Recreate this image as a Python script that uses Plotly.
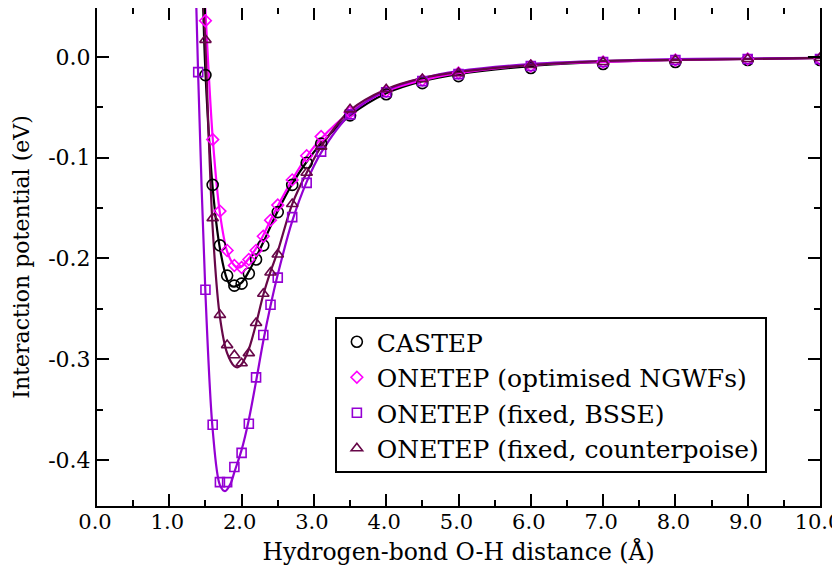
import plotly.graph_objects as go

# ---- data points ----
castep_x = [1.5, 1.6, 1.7, 1.8, 1.9, 2.0, 2.1, 2.2, 2.3, 2.5, 2.7, 2.9, 3.1, 3.5, 4.0, 4.5, 5.0, 6.0, 7.0, 8.0, 9.0, 10.0]
castep_y = [-0.018, -0.127, -0.187, -0.217, -0.227, -0.225, -0.215, -0.201, -0.187, -0.154, -0.127, -0.105, -0.086,
            -0.058, -0.037, -0.026, -0.019, -0.011, -0.007, -0.005, -0.003, -0.003]

opt_x = [1.5, 1.6, 1.7, 1.8, 1.9, 2.0, 2.1, 2.2, 2.3, 2.4, 2.5, 2.7, 2.9, 3.1, 3.5, 4.0, 4.5, 5.0, 6.0, 7.0, 8.0, 9.0, 10.0]
opt_y = [0.036, -0.082, -0.153, -0.192, -0.207, -0.209, -0.201, -0.192, -0.178, -0.162, -0.147, -0.122, -0.098, -0.079,
         -0.055, -0.034, -0.023, -0.016, -0.009, -0.005, -0.003, -0.002, -0.002]

bsse_x = [1.4, 1.5, 1.6, 1.7, 1.8, 1.9, 2.0, 2.1, 2.2, 2.3, 2.4, 2.5, 2.7, 2.9, 3.1, 3.5, 4.0, 4.5, 5.0, 6.0, 7.0, 8.0, 9.0, 10.0]
bsse_y = [-0.015, -0.231, -0.365, -0.422, -0.422, -0.407, -0.393, -0.364, -0.318, -0.276, -0.246, -0.219, -0.159, -0.125,
          -0.094, -0.057, -0.035, -0.024, -0.017, -0.009, -0.005, -0.003, -0.002, -0.002]

cp_x = [1.5, 1.6, 1.7, 1.8, 1.9, 2.0, 2.1, 2.2, 2.3, 2.4, 2.5, 2.7, 2.9, 3.1, 3.5, 4.0, 4.5, 5.0, 6.0, 7.0, 8.0, 9.0, 10.0]
cp_y = [0.017, -0.160, -0.256, -0.286, -0.296, -0.304, -0.294, -0.264, -0.235, -0.214, -0.196, -0.146, -0.115, -0.089,
        -0.052, -0.032, -0.022, -0.016, -0.008, -0.005, -0.003, -0.002, -0.001]

# ---- fitted curves ----
castep_fit_x = [1.465, 1.5, 1.6, 1.7, 1.8, 1.85, 1.9, 2.0, 2.1, 2.2, 2.3, 2.5, 2.7, 2.9, 3.1, 3.5, 4.0, 4.5, 5.0, 6.0, 7.0, 8.0, 9.0, 10.0]
castep_fit_y = [0.06, -0.015, -0.13, -0.19, -0.221, -0.227, -0.228, -0.224, -0.213, -0.199, -0.184, -0.153, -0.126,
                -0.104, -0.086, -0.058, -0.036, -0.024, -0.017, -0.009, -0.005, -0.003, -0.002, -0.001]

opt_fit_x = [1.49, 1.5, 1.6, 1.7, 1.8, 1.9, 1.95, 2.0, 2.1, 2.2, 2.3, 2.4, 2.5, 2.7, 2.9, 3.1, 3.5, 4.0, 4.5, 5.0, 6.0, 7.0, 8.0, 9.0, 10.0]
opt_fit_y = [0.06, 0.045, -0.08, -0.155, -0.193, -0.207, -0.209, -0.208, -0.200, -0.190, -0.177, -0.162, -0.148, -0.122,
             -0.099, -0.081, -0.055, -0.034, -0.023, -0.016, -0.008, -0.005, -0.003, -0.002, -0.001]

bsse_fit_x = [1.37, 1.4, 1.5, 1.6, 1.7, 1.77, 1.85, 1.9, 2.0, 2.1, 2.2, 2.3, 2.4, 2.5, 2.7, 2.9, 3.1, 3.5, 4.0, 4.5, 5.0, 6.0, 7.0, 8.0, 9.0, 10.0]
bsse_fit_y = [0.06, -0.02, -0.235, -0.37, -0.425, -0.431, -0.423, -0.412, -0.39, -0.36, -0.322, -0.282, -0.247, -0.216,
              -0.163, -0.124, -0.095, -0.057, -0.033, -0.021, -0.014, -0.007, -0.004, -0.002, -0.0015, -0.001]

cp_fit_x = [1.47, 1.5, 1.6, 1.7, 1.8, 1.9, 1.95, 2.0, 2.1, 2.2, 2.3, 2.4, 2.5, 2.7, 2.9, 3.1, 3.5, 4.0, 4.5, 5.0, 6.0, 7.0, 8.0, 9.0, 10.0]
cp_fit_y = [0.06, 0.012, -0.17, -0.258, -0.294, -0.307, -0.308, -0.305, -0.29, -0.265, -0.236, -0.213, -0.193, -0.146,
            -0.115, -0.089, -0.053, -0.032, -0.021, -0.015, -0.008, -0.004, -0.003, -0.002, -0.001]

names = ["CASTEP", "ONETEP (optimised NGWFs)", "ONETEP (fixed, BSSE)", "ONETEP (fixed, counterpoise)"]

x_tick_vals = [0, 1, 2, 3, 4, 5, 6, 7, 8, 9, 10]
x_tick_text = ["0.0", "1.0", "2.0", "3.0", "4.0", "5.0", "6.0", "7.0", "8.0", "9.0", "10.0"]
y_tick_vals = [0.0, -0.1, -0.2, -0.3, -0.4]
y_tick_text = ["0.0", "-0.1", "-0.2", "-0.3", "-0.4"]

colors = ["#000000", "#ff00ff", "#9400d3", "#670748"]
symbols = ["circle-open", "diamond-open", "square-open", "triangle-up-open"]
sizes = [11, 9, 9, 10]

series = [
    (castep_x, castep_y, castep_fit_x, castep_fit_y),
    (opt_x, opt_y, opt_fit_x, opt_fit_y),
    (bsse_x, bsse_y, bsse_fit_x, bsse_fit_y),
    (cp_x, cp_y, cp_fit_x, cp_fit_y),
]

fig = go.Figure()
for i, (px, py, fx, fy) in enumerate(series):
    fig.add_trace(go.Scatter(x=fx, y=fy, mode="lines", line=dict(color=colors[i], width=2.2, shape="spline", smoothing=0.9),
                             showlegend=False, hoverinfo="skip"))
for i, (px, py, fx, fy) in enumerate(series):
    fig.add_trace(go.Scatter(x=px, y=py, mode="markers", name=names[i],
                             marker=dict(symbol=symbols[i], size=sizes[i], color=colors[i],
                                         line=dict(width=1.6, color=colors[i]))))

font = "DejaVu Serif"
fig.update_layout(
    width=832, height=564,
    margin=dict(l=89, r=20, t=0, b=66, autoexpand=False),
    paper_bgcolor="white", plot_bgcolor="white",
    font=dict(family=font, size=22, color="black"),
    legend=dict(x=0.329, y=0.3795, xanchor="left", yanchor="top",
                bordercolor="black", borderwidth=2, bgcolor="white",
                font=dict(family=font, size=25, color="black"), itemsizing="trace", tracegroupgap=0),
)
fig.update_xaxes(
    range=[0, 10], tickvals=x_tick_vals, ticktext=x_tick_text, ticklabeloverflow="allow",
    ticklabelshift=-2, ticklabelstandoff=-4,
    showline=True, linecolor="black", linewidth=2, mirror="ticks",
    ticks="inside", ticklen=12, tickwidth=2, tickcolor="black",
    minor=dict(ticks="inside", dtick=0.5, ticklen=6, tickwidth=2, tickcolor="black", showgrid=False),
    showgrid=False, zeroline=False, automargin=False,
    tickfont=dict(family=font, size=21, color="black"),
    title=dict(text="Hydrogen-bond O-H distance (Å)", font=dict(family=font, size=23.5, color="black"), standoff=10),
)
fig.update_yaxes(
    range=[-0.4457, 0.0486], tickvals=y_tick_vals, ticktext=y_tick_text, ticklabeloverflow="allow",
    showline=True, linecolor="black", linewidth=2, mirror="ticks",
    ticks="inside", ticklen=12, tickwidth=2, tickcolor="black",
    minor=dict(ticks="inside", dtick=0.05, tick0=0, ticklen=6, tickwidth=2, tickcolor="black", showgrid=False),
    showgrid=False, zeroline=False, automargin=False,
    tickfont=dict(family=font, size=22, color="black"),
    title=dict(text="Interaction potential (eV)", font=dict(family=font, size=22, color="black"), standoff=12),
)

fig.write_html("out.html")
